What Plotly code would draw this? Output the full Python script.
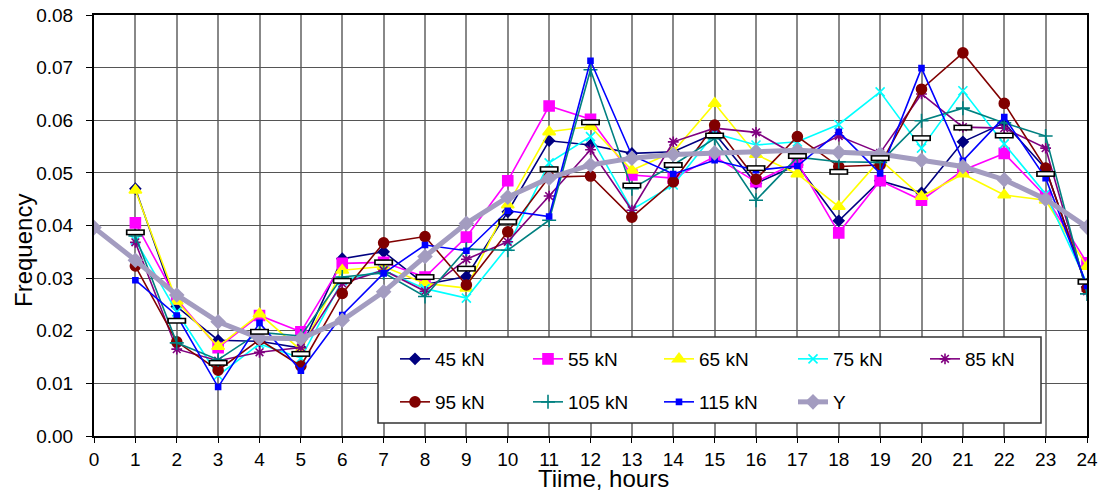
import plotly.graph_objects as go

hours_all = list(range(0, 25))
hours = list(range(1, 25))

s45 = [0.0470, 0.0246, 0.0182, 0.0180, 0.0167, 0.0337, 0.0350, 0.0288, 0.0303, 0.0426, 0.0561, 0.0553,
       0.0537, 0.0540, 0.0575, 0.0480, 0.0515, 0.0409, 0.0485, 0.0462, 0.0559, 0.0595, 0.0508, 0.0283]
s55 = [0.0405, 0.0260, 0.0168, 0.0229, 0.0198, 0.0328, 0.0330, 0.0302, 0.0378, 0.0485, 0.0627, 0.0602,
       0.0496, 0.0490, 0.0531, 0.0483, 0.0520, 0.0386, 0.0485, 0.0448, 0.0505, 0.0537, 0.0455, 0.0329]
s65 = [0.0467, 0.0256, 0.0170, 0.0232, 0.0163, 0.0315, 0.0322, 0.0290, 0.0281, 0.0439, 0.0578, 0.0588,
       0.0505, 0.0540, 0.0632, 0.0535, 0.0498, 0.0436, 0.0525, 0.0455, 0.0498, 0.0458, 0.0448, 0.0322]
s75 = [0.0372, 0.0236, 0.0115, 0.0175, 0.0148, 0.0295, 0.0315, 0.0280, 0.0262, 0.0360, 0.0519, 0.0569,
       0.0430, 0.0477, 0.0575, 0.0553, 0.0559, 0.0592, 0.0654, 0.0547, 0.0656, 0.0555, 0.0460, 0.0290]
s85 = [0.0368, 0.0165, 0.0143, 0.0159, 0.0168, 0.0290, 0.0315, 0.0275, 0.0336, 0.0369, 0.0456, 0.0544,
       0.0429, 0.0559, 0.0585, 0.0577, 0.0532, 0.0570, 0.0538, 0.0650, 0.0587, 0.0585, 0.0547, 0.0275]
s95 = [0.0323, 0.0179, 0.0125, 0.0183, 0.0133, 0.0271, 0.0367, 0.0379, 0.0287, 0.0388, 0.0492, 0.0494,
       0.0416, 0.0483, 0.0591, 0.0488, 0.0569, 0.0512, 0.0515, 0.0659, 0.0728, 0.0632, 0.0509, 0.0280]
s105 = [0.0380, 0.0177, 0.0145, 0.0197, 0.0190, 0.0302, 0.0310, 0.0265, 0.0355, 0.0353, 0.0410, 0.0696,
        0.0470, 0.0515, 0.0565, 0.0448, 0.0530, 0.0521, 0.0520, 0.0599, 0.0623, 0.0595, 0.0570, 0.0270]
s115 = [0.0296, 0.0229, 0.0093, 0.0215, 0.0124, 0.0230, 0.0309, 0.0363, 0.0352, 0.0428, 0.0417, 0.0713,
        0.0533, 0.0498, 0.0524, 0.0505, 0.0513, 0.0578, 0.0499, 0.0699, 0.0523, 0.0606, 0.0490, 0.0285]
mean_rect = [0.0387, 0.0219, 0.0139, 0.0198, 0.0156, 0.0295, 0.0330, 0.0302, 0.0318, 0.0407, 0.0507, 0.0596,
             0.0476, 0.0515, 0.0571, 0.0509, 0.0532, 0.0502, 0.0528, 0.0566, 0.0586, 0.0571, 0.0498, 0.0293]
y_curve = [0.0396, 0.0334, 0.0268, 0.0217, 0.0186, 0.0185, 0.0220, 0.0274, 0.0341, 0.0404, 0.0454, 0.0490,
           0.0515, 0.0528, 0.0535, 0.0538, 0.0540, 0.0543, 0.0539, 0.0536, 0.0524, 0.0512, 0.0487, 0.0450, 0.0397]

FONT = "Liberation Sans, Arial, sans-serif"

series = [
    ("45 kN", s45, "#000080", "diamond", 8),
    ("55 kN", s55, "#FF00FF", "square", 10),
    ("65 kN", s65, "#FFFF00", "triangle-up", 11),
    ("75 kN", s75, "#00FFFF", "x-thin-open", 9),
    ("85 kN", s85, "#800080", "asterisk-open", 9),
    ("95 kN", s95, "#800000", "circle", 10),
    ("105 kN", s105, "#008080", "cross-thin-open", 10),
    ("115 kN", s115, "#0000FF", "square", 5),
]

L, R, T, B = 94, 18, 15, 60
W, H = 1105, 496
pw, ph = W - L - R, H - T - B

def px(xp):
    return (xp - L) / pw

def py(yp):
    return (H - B - yp) / ph

# legend grid (5 columns x 2 rows), text left edges and row centres in pixels
col_text = [435, 568, 699, 833, 965]
row_mid = [359, 402]

def legend_name(i):
    return "legend" if i == 0 else f"legend{i + 1}"

legends = {}
for i in range(9):
    c, r = i % 5, i // 5
    legends[legend_name(i)] = dict(
        orientation="v", x=px(col_text[c] - 40), xanchor="left",
        y=py(row_mid[r]), yanchor="middle",
        bgcolor="rgba(0,0,0,0)", borderwidth=0, font=dict(size=19),
        itemsizing="trace",
    )

fig = go.Figure()
for i, (name, vals, col, sym, size) in enumerate(series):
    fig.add_trace(go.Scatter(
        x=hours, y=vals, name=name, mode="lines+markers",
        line=dict(color=col, width=1.6),
        marker=dict(symbol=sym, size=size, color=col, line=dict(color=col, width=1.6)),
        legend=legend_name(i),
    ))

fig.add_trace(go.Scatter(
    x=hours_all, y=y_curve, name="Y", mode="lines+markers",
    line=dict(color="#A39CC0", width=5),
    marker=dict(symbol="diamond", size=12, color="#A39CC0"),
    legend=legend_name(8),
))

# hollow rectangle markers (not in legend)
fig.add_trace(go.Scatter(
    x=hours, y=mean_rect, mode="markers", showlegend=False, hoverinfo="skip",
    marker=dict(symbol="line-ew-open", size=13.6, color="black", line=dict(color="black", width=6)),
))
fig.add_trace(go.Scatter(
    x=hours, y=mean_rect, mode="markers", showlegend=False,
    marker=dict(symbol="line-ew-open", size=11.2, color="white", line=dict(color="white", width=3)),
))

fig.update_layout(
    width=W, height=H,
    margin=dict(l=L, r=R, t=T, b=B, autoexpand=False),
    paper_bgcolor="white", plot_bgcolor="white",
    font=dict(family=FONT, size=19, color="black"),
    xaxis=dict(
        range=[0, 24], tickmode="linear", tick0=0, dtick=1,
        showgrid=True, gridcolor="#888888", gridwidth=2,
        showline=True, linecolor="black", linewidth=2, mirror=True,
        ticks="outside", ticklen=5, tickcolor="black", tickwidth=1,
        zeroline=False, tickfont=dict(size=19), ticklabelstandoff=0,
        automargin=False,
    ),
    yaxis=dict(
        range=[0, 0.08], tickmode="linear", tick0=0, dtick=0.01, tickformat=".2f",
        showgrid=True, gridcolor="#555555", gridwidth=1.3,
        showline=True, linecolor="black", linewidth=2, mirror=True,
        ticks="outside", ticklen=6, tickcolor="black", tickwidth=1,
        zeroline=False, tickfont=dict(size=19), ticklabelstandoff=9,
        automargin=False,
    ),
    shapes=[dict(
        type="rect", xref="paper", yref="paper",
        x0=px(378), x1=px(1041), y0=py(423), y1=py(337),
        fillcolor="white", line=dict(color="#333333", width=1.5), layer="above",
    )],
    annotations=[
        dict(text="Frequency", xref="paper", yref="paper", x=px(23), y=py(251),
             xanchor="center", yanchor="middle", textangle=-90, showarrow=False,
             font=dict(size=24)),
        dict(text="Tiime, hours", xref="paper", yref="paper", x=px(603), y=py(479),
             xanchor="center", yanchor="middle", showarrow=False, font=dict(size=24)),
    ],
    **legends,
)

fig.write_html("out.html")
